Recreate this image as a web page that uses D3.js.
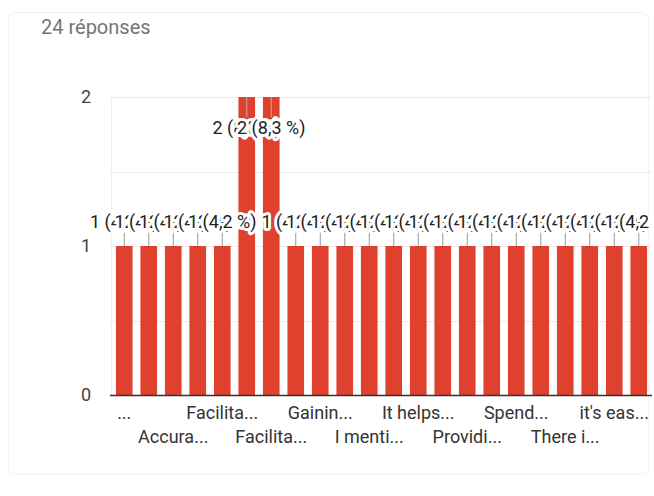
<!DOCTYPE html>
<html>
<head>
<meta charset="utf-8">
<script src="https://cdn.jsdelivr.net/npm/d3@7"></script>
<style>
  body { margin: 0; background: #fff; font-family: Roboto, "Noto Sans", Arial, sans-serif; }
  .annot { paint-order: stroke; stroke: #fff; stroke-width: 6px; stroke-linejoin: round; }
</style>
</head>
<body>
<svg id="chart" width="654" height="496"></svg>
<script>
// answers, sorted like the form summary (labels already cut as shown)
const categories = [
  "...", "A better...", "Accura...", "Allows...", "Facilita...", "Facilita...",
  "Facilita...", "Faster...", "Gainin...", "Helps...", "I menti...", "It allows...",
  "It helps...", "Makes...", "Providi...", "Saves...", "Spend...", "Teachers...",
  "There i...", "Using...", "it's eas...", "more..."
];
const counts = [1, 1, 1, 1, 1, 2, 2, 1, 1, 1, 1, 1, 1, 1, 1, 1, 1, 1, 1, 1, 1, 1];
const totalResponses = 24;
const yTicks = [0, 1, 2];
const gridTicks = [0.5, 1, 1.5, 2];

const svg = d3.select("#chart");

// card outline
svg.append("rect")
  .attr("x", 8.5).attr("y", 12.5).attr("width", 640).attr("height", 462)
  .attr("rx", 6).attr("fill", "none").attr("stroke", "#f2f2f2");

svg.append("text")
  .attr("x", 41).attr("y", 34)
  .attr("font-size", 20).attr("fill", "#757575")
  .text(totalResponses + " réponses");

const x = d3.scaleBand()
  .domain(d3.range(categories.length))
  .range([112, 651])
  .paddingInner(0.32)
  .paddingOuter(0.16);

const y = d3.scaleLinear()
  .domain([0, 2])
  .range([395, 97]);

// grid
svg.append("g").selectAll("line")
  .data(gridTicks)
  .join("line")
  .attr("x1", 110).attr("x2", 652)
  .attr("y1", d => Math.round(y(d)) + 0.5).attr("y2", d => Math.round(y(d)) + 0.5)
  .attr("stroke", "#ebebeb");

svg.append("line")
  .attr("x1", 111.5).attr("x2", 111.5)
  .attr("y1", y(2)).attr("y2", y(0))
  .attr("stroke", "#f0f0f0");

// y labels
svg.append("g").selectAll("text")
  .data(yTicks)
  .join("text")
  .attr("x", 86).attr("y", d => y(d))
  .attr("dy", "0.36em")
  .attr("text-anchor", "middle")
  .attr("font-size", 18).attr("fill", "#444")
  .text(d => d);

// bars
svg.append("g").selectAll("rect")
  .data(counts)
  .join("rect")
  .attr("x", (d, i) => x(i))
  .attr("width", x.bandwidth())
  .attr("y", d => y(d))
  .attr("height", d => y(0) - y(d))
  .attr("fill", "#e0412f");

// baseline
svg.append("line")
  .attr("x1", 110).attr("x2", 652)
  .attr("y1", y(0) + 0.5).attr("y2", y(0) + 0.5)
  .attr("stroke", "#333").attr("stroke-width", 1.3);

// annotations with stems
const fmt = d => d + " (" + (d / totalResponses * 100).toFixed(1).replace(".", ",") + " %)";
const annot = svg.append("g");
counts.forEach((d, i) => {
  const cx = x(i) + x.bandwidth() / 2;
  const top = y(d);
  const inside = d === 2;
  const stemA = inside ? top : top - 15;
  const stemB = inside ? top + 20 : top;
  const baseY = inside ? top + 37 : top - 18;
  annot.append("line")
    .attr("x1", cx).attr("x2", cx)
    .attr("y1", stemA).attr("y2", stemB)
    .attr("stroke", inside ? "#c9a9a4" : "#999");
  annot.append("text")
    .attr("class", "annot")
    .attr("x", cx).attr("y", baseY)
    .attr("text-anchor", "middle")
    .attr("font-size", 18).attr("fill", "#222")
    .text(fmt(d));
});

// x labels, every other one on alternating rows
svg.append("g").selectAll("text")
  .data(categories.map((c, i) => ({ c, i })).filter(d => d.i % 2 === 0))
  .join("text")
  .attr("x", d => x(d.i) + x.bandwidth() / 2)
  .attr("y", d => (d.i / 2) % 2 === 0 ? 419 : 443)
  .attr("text-anchor", "middle")
  .attr("font-size", 18).attr("fill", "#333")
  .text(d => d.c);
</script>
</body>
</html>
